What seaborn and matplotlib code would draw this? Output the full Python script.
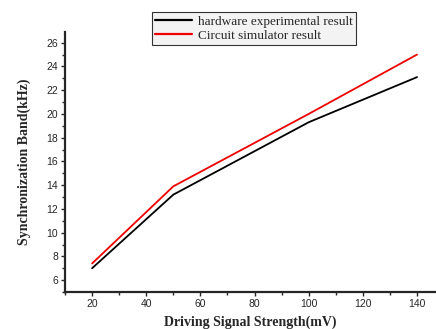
import matplotlib
matplotlib.use("Agg")
import matplotlib.pyplot as plt
from matplotlib.ticker import MultipleLocator
from matplotlib.lines import Line2D
import seaborn as sns
import pandas as pd

signal_mv = [20, 50, 100, 140]
hardware_khz = [7.0, 13.2, 19.3, 23.1]
simulator_khz = [7.4, 13.9, 20.0, 25.0]
series_names = ["hardware experimental result", "Circuit simulator result"]

df = pd.concat([
    pd.DataFrame({"x": signal_mv, "y": hardware_khz, "s": series_names[0]}),
    pd.DataFrame({"x": signal_mv, "y": simulator_khz, "s": series_names[1]}),
])

sns.set_style("ticks")
plt.rcParams["font.family"] = ["Liberation Sans", "DejaVu Sans"]

fig = plt.figure(figsize=(4.36, 3.29), dpi=100)
ax = fig.add_axes([65/436, 1-292/329, 1-65/436, (292-32)/329])

sns.lineplot(data=df, x="x", y="y", hue="s", palette=["black", "#ee0000"],
             linewidth=1.3, ax=ax, legend=False)

ax.set_xlim(10, 147)
ax.set_ylim(5, 26.9)
ax.xaxis.set_major_locator(MultipleLocator(20))
ax.xaxis.set_minor_locator(MultipleLocator(10))
ax.yaxis.set_major_locator(MultipleLocator(2))
ax.yaxis.set_minor_locator(MultipleLocator(1))
ax.tick_params(which="major", length=3, width=1, direction="out", labelsize=7.5, pad=2)
ax.tick_params(which="minor", length=2, width=1, direction="out")
for s in ["top", "right"]:
    ax.spines[s].set_visible(False)
for s in ["left", "bottom"]:
    ax.spines[s].set_linewidth(1.6)

ax.set_xlabel("Driving Signal Strength(mV)", family="Liberation Serif",
              fontweight="bold", fontsize=10, labelpad=5)
ax.set_ylabel("Synchronization Band(kHz)", family="Liberation Serif",
              fontweight="bold", fontsize=10, labelpad=11)

handles = [Line2D([], [], color="black", lw=1.6), Line2D([], [], color="#ee0000", lw=1.6)]
leg = fig.legend(handles, series_names, loc="upper left",
                 bbox_to_anchor=(152/436, 1-12/329), frameon=True, fancybox=False,
                 prop={"family": "Liberation Serif", "size": 9.5},
                 handlelength=2.8, handletextpad=0.4, borderpad=0.25, labelspacing=0.15,
                 borderaxespad=0)
leg.get_frame().set_facecolor("#f0f0f0")
leg.get_frame().set_edgecolor("black")
leg.get_frame().set_linewidth(0.8)

fig.savefig("out.png", dpi=100)
